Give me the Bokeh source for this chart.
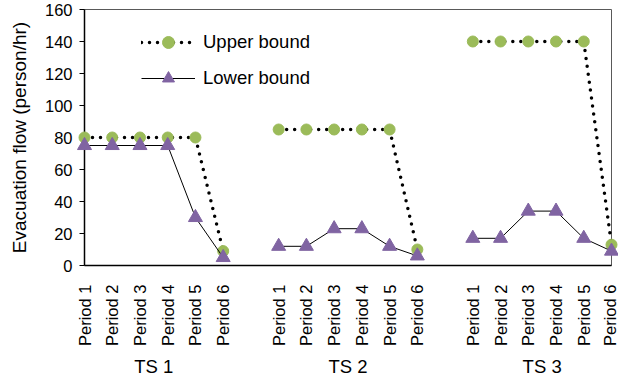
import math
import numpy as np
from bokeh.plotting import figure
from bokeh.models import Range1d, FixedTicker, LinearAxis, Legend, LegendItem
from bokeh.embed import file_html
from bokeh.resources import INLINE

groups = ["TS 1", "TS 2", "TS 3"]
periods = ["Period 1", "Period 2", "Period 3", "Period 4", "Period 5", "Period 6"]

upper_ts1 = [80, 80, 80, 80, 80, 9]
upper_ts2 = [85, 85, 85, 85, 85, 10]
upper_ts3 = [140, 140, 140, 140, 140, 13]

lower_ts1 = [75, 75, 75, 75, 30, 5]
lower_ts2 = [12, 12, 23, 23, 12, 6]
lower_ts3 = [17, 17, 34, 34, 17, 9]

y_ticks = [0, 20, 40, 60, 80, 100, 120, 140, 160]

FONT = "Liberation Sans"
GREEN = "#9BBB59"
PURPLE = "#8064A2"

gap = 1
step = len(periods) + gap
xs, up, lo = [], [], []
tick_pos, tick_lab = [], {}
group_pos, group_lab = [], {}
for gi, (g, u, l) in enumerate(zip(groups, [upper_ts1, upper_ts2, upper_ts3],
                                     [lower_ts1, lower_ts2, lower_ts3])):
    for pi, per in enumerate(periods):
        x = gi * step + pi
        xs.append(x); up.append(u[pi]); lo.append(l[pi])
        tick_pos.append(x); tick_lab[x] = per
    c = gi * step + (len(periods) - 1) / 2
    group_pos.append(c); group_lab[c] = g
    if gi < len(groups) - 1:
        xs.append(np.nan); up.append(np.nan); lo.append(np.nan)

xs = np.array(xs, dtype=float)
up = np.array(up, dtype=float)
lo = np.array(lo, dtype=float)
xmax = (len(groups) - 1) * step + len(periods) - 1

p = figure(width=618, height=379,
           x_range=Range1d(0, xmax), y_range=Range1d(0, 160),
           output_backend="svg", toolbar_location=None,
           min_border_left=84, min_border_right=7, min_border_top=9, min_border_bottom=114,
           x_axis_type=None)
p.xgrid.visible = False
p.ygrid.visible = False
p.outline_line_color = "#595959"
p.outline_line_width = 1
p.background_fill_color = "white"
p.border_fill_color = "white"

# y axis
ya = p.yaxis[0]
ya.ticker = FixedTicker(ticks=y_ticks)
ya.axis_label = "Evacuation flow (person/hr)"
ya.axis_label_text_font = FONT
ya.axis_label_text_font_size = "19px"
ya.axis_label_text_font_style = "normal"
ya.axis_label_text_color = "#000000"
ya.axis_label_standoff = 12
ya.major_label_text_font = FONT
ya.major_label_text_font_size = "16.5px"
ya.major_label_text_color = "#000000"
ya.major_label_standoff = 7
ya.major_tick_out = 5
ya.major_tick_in = 0
ya.minor_tick_line_color = None
ya.axis_line_color = "#000000"
ya.major_tick_line_color = "#000000"
ya.axis_line_width = 1.5

# x axis with period labels
xa = LinearAxis(ticker=FixedTicker(ticks=tick_pos), major_label_overrides=tick_lab)
xa.major_label_orientation = math.pi / 2
xa.major_label_text_font = FONT
xa.major_label_text_font_size = "16.5px"
xa.major_label_text_color = "#000000"
xa.major_label_standoff = 19
xa.major_tick_out = 0
xa.major_tick_in = 0
xa.major_tick_line_color = None
xa.minor_tick_line_color = None
xa.axis_line_color = "#000000"
xa.axis_line_width = 1.5
p.add_layout(xa, "below")

# group labels
ga = LinearAxis(ticker=FixedTicker(ticks=group_pos), major_label_overrides=group_lab)
ga.major_label_text_font = FONT
ga.major_label_text_font_size = "18.5px"
ga.major_label_text_color = "#000000"
ga.major_label_standoff = 7
ga.major_tick_out = 0
ga.major_tick_in = 0
ga.major_tick_line_color = None
ga.minor_tick_line_color = None
ga.axis_line_color = None
p.add_layout(ga, "below")

ul = p.line(xs, up, line_color="black", line_width=3.5, line_dash="0 8", line_cap="round", level="overlay")
us = p.scatter(xs, up, marker="circle", size=11, fill_color=GREEN, line_color=GREEN, level="overlay")
ll = p.line(xs, lo, line_color="black", line_width=1, level="overlay")
ls = p.scatter(xs, lo, marker="triangle", size=14, fill_color=PURPLE, line_color=PURPLE, level="overlay")

legend = Legend(items=[LegendItem(label="Upper bound", renderers=[ul, us]),
                       LegendItem(label="Lower bound", renderers=[ll, ls])],
                location=(57, 172), padding=0, margin=0, spacing=6,
                glyph_width=54, glyph_height=30, label_height=30, label_standoff=8,
                label_text_font=FONT, label_text_font_size="18.5px", label_text_color="#000000",
                border_line_color=None, background_fill_alpha=0)
p.add_layout(legend, "center")

open("out.html", "w").write(file_html(p, INLINE))
